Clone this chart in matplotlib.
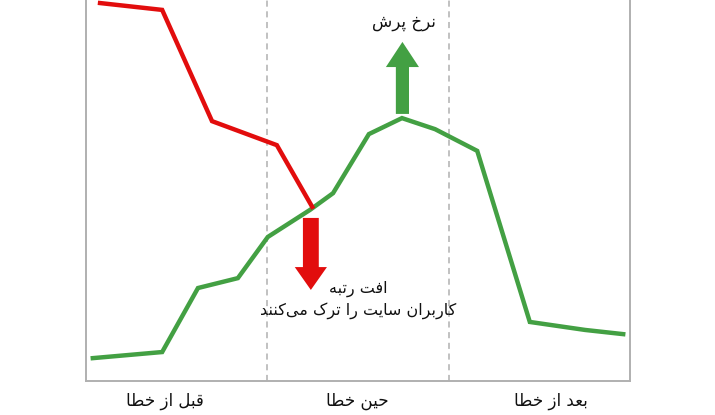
import matplotlib
matplotlib.use('Agg')
import matplotlib.pyplot as plt

# %% data
phases = ['قبل از خطا', 'حین خطا', 'بعد از خطا']
phase_pos = [1.74, 5.98, 10.26]
phase_edges = [4.0, 8.0]

rank_x = [0.31, 1.68, 2.78, 4.21, 4.99]
rank_y = [99.2, 97.4, 68.2, 61.9, 45.7]

bounce_x = [0.15, 1.68, 2.47, 3.35, 4.01, 4.94, 5.45, 6.24, 6.97, 7.70, 8.63, 9.79, 11.01, 11.85]
bounce_y = [6.0, 7.6, 24.4, 27.0, 37.8, 44.9, 49.3, 64.8, 69.0, 66.1, 60.4, 15.5, 13.4, 12.3]

bounce_label = 'نرخ پرش'
rank_label = 'افت رتبه\nکاربران سایت را ترک می‌کنند'

# %% tiny persian shaper (matplotlib has no arabic shaping / bidi)
FORMS = {
    'ا': ('\uFE8D', '\uFE8E', None, None),
    'ب': ('\uFE8F', '\uFE90', '\uFE91', '\uFE92'),
    'پ': ('\uFB56', '\uFB57', '\uFB58', '\uFB59'),
    'ت': ('\uFE95', '\uFE96', '\uFE97', '\uFE98'),
    'ح': ('\uFEA1', '\uFEA2', '\uFEA3', '\uFEA4'),
    'خ': ('\uFEA5', '\uFEA6', '\uFEA7', '\uFEA8'),
    'د': ('\uFEA9', '\uFEAA', None, None),
    'ر': ('\uFEAD', '\uFEAE', None, None),
    'ز': ('\uFEAF', '\uFEB0', None, None),
    'س': ('\uFEB1', '\uFEB2', '\uFEB3', '\uFEB4'),
    'ش': ('\uFEB5', '\uFEB6', '\uFEB7', '\uFEB8'),
    'ط': ('\uFEC1', '\uFEC2', '\uFEC3', '\uFEC4'),
    'ع': ('\uFEC9', '\uFECA', '\uFECB', '\uFECC'),
    'ف': ('\uFED1', '\uFED2', '\uFED3', '\uFED4'),
    'ق': ('\uFED5', '\uFED6', '\uFED7', '\uFED8'),
    'ک': ('\uFB8E', '\uFB8F', '\uFB90', '\uFB91'),
    'ل': ('\uFEDD', '\uFEDE', '\uFEDF', '\uFEE0'),
    'م': ('\uFEE1', '\uFEE2', '\uFEE3', '\uFEE4'),
    'ن': ('\uFEE5', '\uFEE6', '\uFEE7', '\uFEE8'),
    'ه': ('\uFEE9', '\uFEEA', '\uFEEB', '\uFEEC'),
    'ی': ('\uFBFC', '\uFBFD', '\uFBFE', '\uFBFF'),
}
RIGHT_ONLY = set('ادرز')


def shape_line(s):
    out = []
    for i, c in enumerate(s):
        if c not in FORMS:
            out.append('' if c == '\u200c' else c)
            continue
        prev = s[i - 1] if i > 0 else None
        nxt = s[i + 1] if i + 1 < len(s) else None
        jp = prev in FORMS and prev not in RIGHT_ONLY
        jn = c not in RIGHT_ONLY and nxt in FORMS
        iso, fin, ini, med = FORMS[c]
        if jp and jn:
            g = med
        elif jp:
            g = fin
        elif jn:
            g = ini
        else:
            g = iso
        out.append(g)
    return ''.join(out)[::-1]


def fa(s):
    return '\n'.join(shape_line(l) for l in s.split('\n'))


# %% plotting
plt.rcParams['font.family'] = ['DejaVu Sans']
RED = '#e20d0d'
GREEN = '#43a043'
GRAY = '#b0b0b0'

fig = plt.figure(figsize=(7.15, 4.15), dpi=100)
ax = fig.add_axes([86 / 715, 1 - 381 / 415, (630 - 86) / 715, 381 / 415])
ax.set_xlim(0, 12)
ax.set_ylim(0, 100)

for e in phase_edges:
    ax.axvline(e, color=GRAY, lw=1.1, ls=(0, (4, 3)), zorder=1)

ax.plot(bounce_x, bounce_y, color=GREEN, lw=3.2, solid_joinstyle='miter', zorder=3)
ax.plot(rank_x, rank_y, color=RED, lw=3.2, solid_joinstyle='miter', zorder=3)

# arrows
ax.arrow(6.98, 70.1, 0, 18.9, width=0.29, head_width=0.73, head_length=6.6,
         length_includes_head=True, color=GREEN, lw=0, zorder=4)
ax.arrow(4.96, 42.8, 0, -18.9, width=0.35, head_width=0.71, head_length=6.0,
         length_includes_head=True, color=RED, lw=0, zorder=4)

ax.text(7.01, 94.3, fa(bounce_label), ha='center', va='center', fontsize=12, color='#111111')
ax.text(6.0, 21.3, fa(rank_label), ha='center', va='center', fontsize=11.5,
        multialignment='center', linespacing=1.45, color='#111111')

ax.set_xticks(phase_pos)
ax.set_xticklabels([fa(p) for p in phases], fontsize=12, color='#111111')
ax.tick_params(axis='x', length=0, pad=8)
ax.set_yticks([])

ax.spines['top'].set_visible(False)
for s in ['left', 'right', 'bottom']:
    ax.spines[s].set_color(GRAY)
    ax.spines[s].set_linewidth(1.4)

fig.savefig('out.png', dpi=100)
